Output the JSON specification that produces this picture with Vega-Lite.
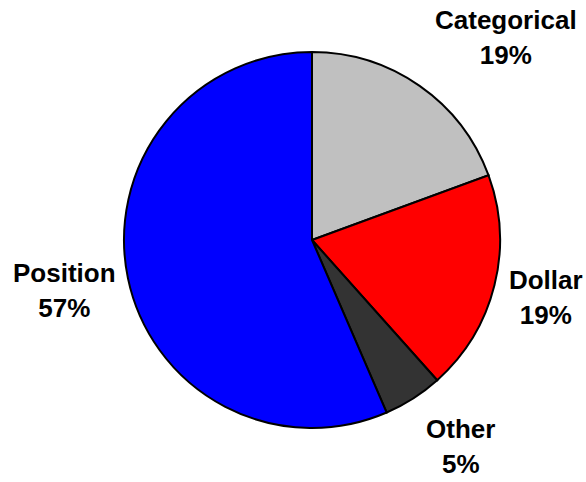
{
  "$schema": "https://vega.github.io/schema/vega-lite/v6.json",
  "width": 548,
  "height": 480,
  "autosize": {"type": "none"},
  "padding": {"left": 38, "top": 0, "right": 0, "bottom": 2},
  "background": "white",
  "config": {"view": {"stroke": null}},
  "data": {
    "values": [
      {"category": "Categorical", "pct": 19.4, "label": "Categorical\n19%"},
      {"category": "Dollar", "pct": 19.0, "label": "Dollar\n19%"},
      {"category": "Other", "pct": 5.1, "label": "Other\n5%"},
      {"category": "Position", "pct": 56.5, "label": "Position\n57%"}
    ]
  },
  "encoding": {
    "theta": {"field": "pct", "type": "quantitative", "stack": true},
    "color": {
      "field": "category",
      "type": "nominal",
      "scale": {
        "domain": ["Categorical", "Dollar", "Other", "Position"],
        "range": ["#C0C0C0", "#FF0000", "#333333", "#0000FF"]
      },
      "legend": null
    }
  },
  "layer": [
    {
      "mark": {"type": "arc", "outerRadius": 188, "stroke": "black", "strokeWidth": 2}
    },
    {
      "mark": {"type": "text", "radius": 280, "thetaOffset": 0.155, "dy": -17, "font": "Liberation Sans", "fontWeight": "bold", "fontSize": 26, "lineBreak": "\n", "lineHeight": 35, "baseline": "middle", "align": "center"},
      "encoding": {
        "text": {"condition": {"test": "datum.category === 'Categorical'", "field": "label"}, "value": ""},
        "color": {"value": "black"}
      }
    },
    {
      "mark": {"type": "text", "radius": 241, "dy": -17, "font": "Liberation Sans", "fontWeight": "bold", "fontSize": 26, "lineBreak": "\n", "lineHeight": 35, "baseline": "middle", "align": "center"},
      "encoding": {
        "text": {"condition": {"test": "datum.category === 'Dollar'", "field": "label"}, "value": ""},
        "color": {"value": "black"}
      }
    },
    {
      "mark": {"type": "text", "radius": 255, "thetaOffset": -0.054, "dy": -17, "font": "Liberation Sans", "fontWeight": "bold", "fontSize": 26, "lineBreak": "\n", "lineHeight": 35, "baseline": "middle", "align": "center"},
      "encoding": {
        "text": {"condition": {"test": "datum.category === 'Other'", "field": "label"}, "value": ""},
        "color": {"value": "black"}
      }
    },
    {
      "mark": {"type": "text", "radius": 253, "dy": -17, "font": "Liberation Sans", "fontWeight": "bold", "fontSize": 26, "lineBreak": "\n", "lineHeight": 35, "baseline": "middle", "align": "center"},
      "encoding": {
        "text": {"condition": {"test": "datum.category === 'Position'", "field": "label"}, "value": ""},
        "color": {"value": "black"}
      }
    }
  ]
}
